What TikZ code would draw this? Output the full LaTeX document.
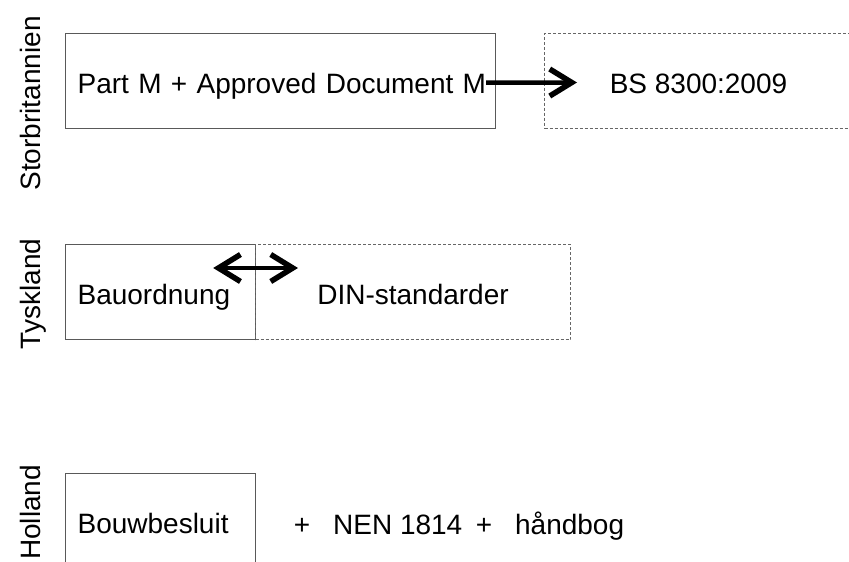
\documentclass[tikz,border=0pt]{standalone}
\usepackage{fontspec}
\setmainfont{Liberation Sans}
\usetikzlibrary{arrows.meta}

\begin{document}
\begin{tikzpicture}[x=1pt, y=-1pt,
    every node/.style={font=\fontsize{28}{34}\selectfont},
    solidbox/.style={draw=black!65, line width=1.2pt, anchor=north west, inner xsep=12pt, inner ysep=0pt,
        minimum height=95pt, text height=25pt, text depth=0pt, align=left},
    dashbox/.style={draw=black!60, line width=1pt, dash pattern=on 3pt off 2pt, anchor=north west,
        inner sep=0pt, minimum height=95pt, text height=25pt, text depth=0pt},
    country/.style={rotate=90, anchor=base},
    barb/.tip={Straight Barb[length=22pt, width=27pt, line width=5.5pt]},
    onearrow/.style={line width=4.5pt, -barb},
    twoarrow/.style={line width=4.5pt, barb-barb}]
    \clip (0,0) rectangle (849,562);

    \node [country] (uk) at (40,103.5) {Storbritannien};
    \node [country] (de) at (40,294) {Tyskland};
    \node [country] (nl) at (40,512.5) {Holland};

    \node [solidbox, text width=406pt] (part) at (65,33) {\mbox{Part M + Approved Document M}};
    \node [dashbox, minimum width=308pt] (bs) at (544,33) {BS 8300:2009};

    \node [solidbox, text width=166pt] (bau) at (65,244) {Bauordnung};
    \node [dashbox, minimum width=315pt] (din) at (255,244) {DIN-standarder};

    \node [solidbox, text width=166pt] (bouw) at (65,473) {Bouwbesluit};
    \node [anchor=base west, inner sep=0pt] (nen) at (293.6,534)
        {+\hspace{23pt}NEN 1814\hspace{13.5pt}+\hspace{23pt}håndbog};

    \draw [onearrow] ([shift={(-10,1.5)}]part.east) -- ([shift={(33,1.5)}]bs.west);
    \draw [twoarrow] ([shift={(-43,24)}]bau.north east) -- ([shift={(43,24)}]din.north west);
\end{tikzpicture}
\end{document}
